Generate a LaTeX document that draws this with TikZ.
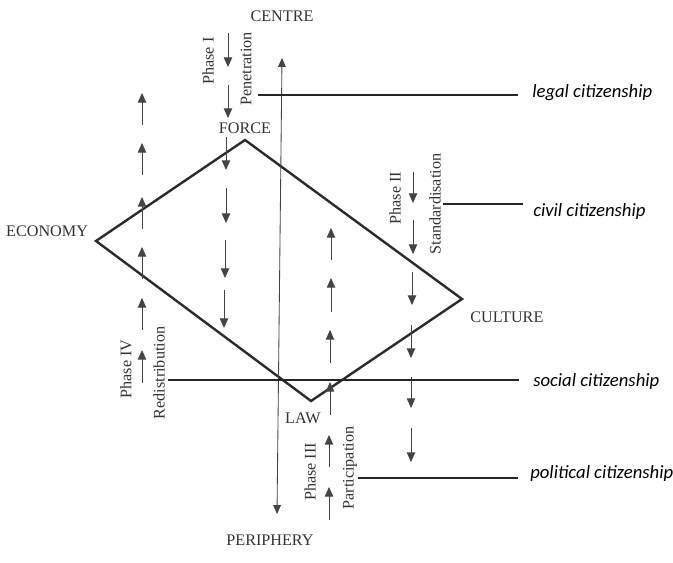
\documentclass[tikz,border=0pt]{standalone}
\usepackage{fontspec}
\setmainfont{Liberation Serif}
\newfontfamily\citefont{Carlito}
\usepackage{tikz}
\usetikzlibrary{arrows.meta, positioning, calc}
\definecolor{inkgray}{HTML}{333333}
\definecolor{rimgray}{HTML}{2B2B2B}
\definecolor{arrowgray}{HTML}{444444}
\tikzset{
  lbl/.style={font=\fontsize{11.5}{13}\selectfont, text=inkgray, inner sep=0pt},
  phase/.style={lbl, rotate=90},
  cite/.style={font=\citefont\itshape\fontsize{13.3}{15}\selectfont, text=black, inner sep=0pt, anchor=base west},
  rim/.style={draw=rimgray, line width=1.7pt, line join=miter},
  citeline/.style={draw=black!85, line width=1.1pt},
  flow/.style={draw=arrowgray, line width=0.7pt, -{Triangle[length=2.4mm, width=2.1mm]}},
  spine/.style={draw=arrowgray, line width=0.6pt, {Triangle[length=2.2mm, width=1.9mm]}-{Triangle[length=2.2mm, width=1.9mm]}},
}

\begin{document}
\begin{tikzpicture}[x=0.025cm, y=-0.025cm]
  \fill[white] (0,0) rectangle (673,563);
  \useasboundingbox (0,0) rectangle (673,563);

  % Diamond
  \coordinate (f) at (245,140);
  \coordinate (e) at (96,241);
  \coordinate (l) at (311,401);
  \coordinate (c) at (462,299);
  \draw[rim] (f) -- (e) -- (l) -- (c) -- cycle;

  % Corner labels
  \node[lbl, above=4pt of f] (force) {FORCE};
  \node[lbl, left=5.5pt of e, yshift=7pt] (economy) {ECONOMY};
  \node[lbl, below right=9.2pt and 5.7pt of c] (culture) {CULTURE};
  \node[lbl, below=8.5pt of l, xshift=-5.7pt] (law) {LAW};

  % Centre -- periphery axis
  \coordinate (up) at (282,58);
  \coordinate (down) at (277,514);
  \draw[spine] (down) -- (up);
  \node[lbl, above=25.5pt of up] (centre) {CENTRE};
  \node[lbl, below=15pt of down, xshift=-5pt] (periphery) {PERIPHERY};

  % Phases
  \node[phase] (phase1) at (208,61) {Phase I};
  \node[phase] (penetration) at (246,69) {Penetration};
  \node[phase] (phase2) at (395,198) {Phase II};
  \node[phase] (standard) at (435,204) {Standardisation};
  \node[phase] (phase3) at (310,472) {Phase III};
  \node[phase] (particip) at (350,468) {Participation};
  \node[phase] (phase4) at (126,369) {Phase IV};
  \node[phase] (redist) at (159,373) {Redistribution};

  % Flow arrows
  \foreach \x/\a/\b in {142/125/93, 142/175/143, 142/229/197, 142/279/247, 142/330/298, 142/383/350}
    \draw[flow] (\x,\a) -- (\x,\b);
  \foreach \x/\a/\b in {228/33/67, 228/85/118, 226/137/170, 226/188/223, 225/240/278, 224/290/328}
    \draw[flow] (\x,\a) -- (\x,\b);
  \foreach \x/\a/\b in {331/260/228, 331/312/278, 330/363/330, 330/415/382, 329/467/435, 329/520/487}
    \draw[flow] (\x,\a) -- (\x,\b);
  \foreach \x/\a/\b in {413/172/203, 413/220/254, 412/272/305, 411/325/358, 411/377/408, 411/428/462}
    \draw[flow] (\x,\a) -- (\x,\b);

  % Citizenship
  \node[cite] (legal) at (532,98) {legal citizenship};
  \node[cite] (civil) at (533,217) {civil citizenship};
  \node[cite] (social) at (533,387) {social citizenship};
  \node[cite] (political) at (530,479) {political citizenship};
  \coordinate (legalstart) at (258,95);
  \coordinate (civilstart) at (443,204);
  \coordinate (socialstart) at (168,380);
  \coordinate (politicalstart) at (358,478);
  \draw[citeline] (legalstart) -- ($(legalstart -| legal.west)+(-14,0)$);
  \draw[citeline] (civilstart) -- ($(civilstart -| civil.west)+(-10,0)$);
  \draw[citeline] (socialstart) -- ($(socialstart -| social.west)+(-14,0)$);
  \draw[citeline] (politicalstart) -- ($(politicalstart -| political.west)+(-12,0)$);
\end{tikzpicture}
\end{document}
